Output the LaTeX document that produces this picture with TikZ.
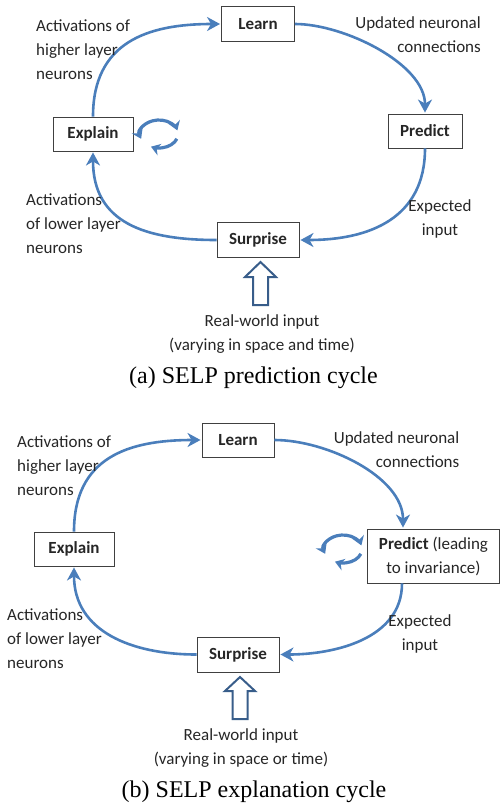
\documentclass[tikz,border=0pt]{standalone}
\usepackage{fontspec}
\setmainfont{Carlito}
\newfontfamily\capfont{Liberation Serif}
\usetikzlibrary{arrows.meta}

\definecolor{cycblue}{RGB}{74,126,187}
\definecolor{inblue}{RGB}{56,93,138}
\definecolor{boxgray}{RGB}{64,64,64}
\newcommand\lblfont{\fontsize{17}{24}\selectfont}

\tikzset{
    stage/.style={draw=boxgray, line width=0.9pt, inner sep=0pt, text=black!85, font=\lblfont\bfseries},
    lbl/.style={inner sep=0pt, text=black!85, font=\lblfont},
    link/.style={cycblue, line width=2.6pt, -{Stealth[length=13pt,width=14pt,inset=4pt]}, shorten >=1pt},
    spin/.style={cycblue, line width=3.2pt},
    spinhead/.tip={Stealth[length=9pt,width=12pt,inset=3pt]},
    inarrow/.style={draw=inblue, fill=white, line width=2pt, line join=miter},
    caption/.style={inner sep=0pt, anchor=base, font=\capfont\fontsize{24}{30}\selectfont}
}

\begin{document}
\begin{tikzpicture}[x=1pt, y=1pt]
    \useasboundingbox (0,0) rectangle (500,-804);

    % (a) prediction cycle
    \node[stage, minimum width=73, minimum height=35] (learnA) at (258,-24) {Learn};
    \node[stage, minimum width=74, minimum height=34] (predictA) at (425,-131) {Predict};
    \node[stage, minimum width=80, minimum height=34] (explainA) at (93,-134) {Explain};
    \node[stage, minimum width=82, minimum height=35] (surpriseA) at (258,-240) {Surprise};

    \draw[link] (explainA.north) to[out=90, in=180, looseness=1.2] (learnA.west);
    \draw[link] (learnA.east) to[out=0, in=90, looseness=0.8] (predictA.north);
    \draw[link] (predictA.south) to[out=-90, in=0, looseness=1.15] (surpriseA.east);
    \draw[link] (surpriseA.west) to[out=180, in=-90, looseness=1.2] (explainA.south);

    % base = last line
    \node[lbl, anchor=base west, align=left] (higherA) at (36,-79) {Activations of\\higher layer\\neurons};
    \node[lbl, anchor=base east, align=right] (updatedA) at (481,-52) {Updated neuronal\\connections};
    \node[lbl, anchor=base west, align=left] (lowerA) at (26,-253) {Activations\\of lower layer\\neurons};
    \node[lbl, anchor=base, align=center] (expectedA) at (440,-235) {Expected\\input};
    \node[lbl, anchor=base, align=center] (worldA) at (262,-350) {Real-world input\\(varying in space and time)};
    \node[caption] (capA) at (253.5,-383) {(a) SELP prediction cycle};

    \coordinate (spinA) at (159,-134);
    \draw[spin, spinhead-spinhead]
        ([shift={(200:19 and 14)}]spinA) arc[start angle=200, end angle=15, x radius=19, y radius=14];
    \draw[spin, -spinhead]
        ([shift={(-20:19 and 14)}]spinA) arc[start angle=-20, end angle=-115, x radius=19, y radius=14];

    \coordinate (tipA) at (260.5,-262);
    \draw[inarrow] (tipA) -- ++(-15.5,-15) -- ++(8,0) -- ++(0,-28) -- ++(15,0) -- ++(0,28) -- ++(8,0) -- cycle;

    % (b) explanation cycle
    \node[stage, minimum width=72, minimum height=34] (learnB) at (238,-440) {Learn};
    \node[stage, minimum width=132, minimum height=54, align=center] (predictB) at (433.5,-556)
        {Predict \textmd{(leading}\\\textmd{to invariance)}};
    \node[stage, minimum width=80, minimum height=34] (explainB) at (74,-549) {Explain};
    \node[stage, minimum width=82, minimum height=35] (surpriseB) at (238,-654.5) {Surprise};

    \draw[link] (explainB.north) to[out=90, in=180, looseness=1.2] (learnB.west);
    \draw[link] (learnB.east) to[out=0, in=90, looseness=0.85] ([xshift=-30.5pt]predictB.north);
    \draw[link] ([xshift=-31.5pt]predictB.south) to[out=-90, in=0, looseness=1.0] (surpriseB.east);
    \draw[link] (surpriseB.west) to[out=180, in=-90, looseness=1.1] (explainB.south);

    \node[lbl, anchor=base west, align=left] (higherB) at (17,-495) {Activations of\\higher layer\\neurons};
    \node[lbl, anchor=base east, align=right] (updatedB) at (459.5,-467) {Updated neuronal\\connections};
    \node[lbl, anchor=base west, align=left] (lowerB) at (7,-668) {Activations\\of lower layer\\neurons};
    \node[lbl, anchor=base, align=center] (expectedB) at (420,-650) {Expected\\input};
    \node[lbl, anchor=base, align=center] (worldB) at (241,-764) {Real-world input\\(varying in space or time)};
    \node[caption] (capB) at (254,-797) {(b) SELP explanation cycle};

    \coordinate (spinB) at (343,-549);
    \draw[spin, spinhead-spinhead]
        ([shift={(200:19 and 14)}]spinB) arc[start angle=200, end angle=15, x radius=19, y radius=14];
    \draw[spin, -spinhead]
        ([shift={(-20:19 and 14)}]spinB) arc[start angle=-20, end angle=-115, x radius=19, y radius=14];

    \coordinate (tipB) at (240,-677);
    \draw[inarrow] (tipB) -- ++(-15,-14) -- ++(7.5,0) -- ++(0,-28) -- ++(15,0) -- ++(0,28) -- ++(7.5,0) -- cycle;
\end{tikzpicture}
\end{document}
